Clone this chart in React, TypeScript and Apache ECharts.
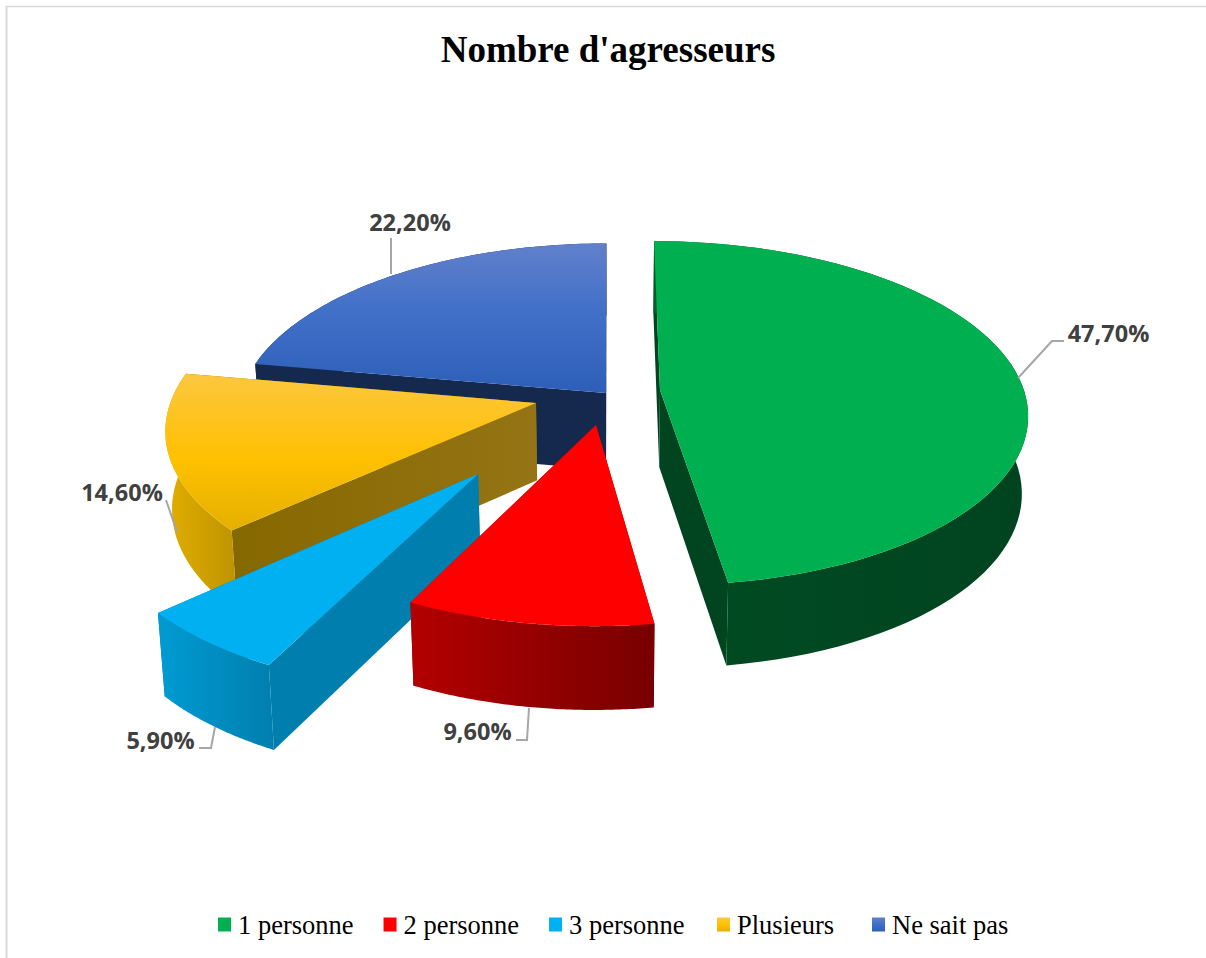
import React, { useEffect, useRef } from "react";
import * as echarts from "echarts";

const categories = ["1 personne", "2 personne", "3 personne", "Plusieurs", "Ne sait pas"];
const shares = [47.7, 9.6, 5.9, 14.6, 22.2];

// How far each slice is pulled out of the disc, in units of the disc radius.
const pullX = [0.1374, -0.0374, -0.3396, -0.2013, -0.011];
const pullY = [-0.0236, 0.178, 0.4425, 0.0525, -0.0059];
const radii = [1, 0.975, 0.97, 0.995, 1];

const vgrad = (stops: [number, string][]) =>
  new echarts.graphic.LinearGradient(0, 0, 0, 1, stops.map(([offset, color]) => ({ offset, color })));
const hgrad = (stops: [number, string][]) =>
  new echarts.graphic.LinearGradient(0, 0, 1, 0, stops.map(([offset, color]) => ({ offset, color })));

// Surface shading per slice: top face, outer rim, radial wall.
const topFills: any[] = [
  "#00b050",
  "#ff0000",
  "#00b0f0",
  vgrad([[0, "#fcc73f"], [0.55, "#ffc000"], [1, "#e4b000"]]),
  vgrad([[0, "#6180cb"], [0.45, "#4170c8"], [1, "#2d5fb8"]]),
];
const rimFills: any[] = [
  hgrad([[0, "#005f2b"], [0.2, "#004a22"], [1, "#00441f"]]),
  hgrad([[0, "#b30000"], [1, "#780000"]]),
  hgrad([[0, "#009bd3"], [1, "#007fae"]]),
  hgrad([[0, "#e2ae00"], [1, "#bd9300"]]),
  hgrad([[0, "#15294f"], [1, "#15294f"]]),
];
const wallFills: any[] = [
  "#00451f",
  "#8f0000",
  "#007fae",
  hgrad([[0, "#866800"], [1, "#947414"]]),
  "#15294f",
];

// Perspective view of the tilted disc.
const view = { cx: 610, cy: 394, rx: 365, ry: 170, persp: 0.135, depth: 77, shrink: 0.015 };

const project = (u: number, v: number, lower: number) => {
  const s = 1 / (1 - view.persp * v);
  return [
    view.cx + view.rx * u * s * (1 - view.shrink * lower),
    view.cy + view.ry * v * s + lower * view.depth * Math.sqrt(s),
  ];
};

const total = shares.reduce((a, b) => a + b, 0);

function sliceShapes(index: number, value: number) {
  const before = shares.slice(0, index).reduce((a, b) => a + b, 0);
  const a0 = (before / total) * Math.PI * 2;
  const a1 = a0 + (value / total) * Math.PI * 2;
  const ex = pullX[index];
  const ey = pullY[index];
  const r = radii[index];
  const ring = (lower: number) => {
    const pts: number[][] = [];
    for (let i = 0; i <= 72; i++) {
      const t = a0 + ((a1 - a0) * i) / 72;
      pts.push(project(ex + r * Math.sin(t), ey - r * Math.cos(t), lower));
    }
    return pts;
  };
  const top = ring(0);
  const bottom = ring(1);
  const apexTop = project(ex, ey, 0);
  const apexBottom = project(ex, ey, 1);
  const wall = (t: number[], b: number[]) => [apexTop, t, b, apexBottom];
  return {
    topFace: [apexTop, ...top],
    rim: [...top, ...bottom.slice().reverse()],
    wallStart: wall(top[0], bottom[0]),
    wallEnd: wall(top[72], bottom[72]),
  };
}

const poly = (points: number[][], fill: any) => ({
  type: "polygon",
  silent: true,
  shape: { points },
  style: { fill, stroke: null },
});

function makeSeries(index: number) {
  return {
    type: "custom",
    name: categories[index],
    coordinateSystem: "none",
    itemStyle: { color: topFills[index] },
    data: [[shares[index]]],
    renderItem: (_p: any, api: any) => {
      const g = sliceShapes(index, api.value(0));
      return {
        type: "group",
        children: [
          poly(g.wallEnd, wallFills[index]),
          poly(g.wallStart, wallFills[index]),
          poly(g.rim, rimFills[index]),
          poly(g.topFace, topFills[index]),
        ],
      };
    },
  };
}

const formatShare = (v: number) => v.toFixed(2).replace(".", ",") + "%";

// Value labels and their leader lines, in pixels.
const labelLayout = [
  { x: 1108.5, y: 333, line: [[1018, 378], [1052, 341], [1064, 341]] },
  { x: 477.5, y: 731, line: [[529, 708], [527, 740], [516, 740]] },
  { x: 160.5, y: 740, line: [[215, 727], [211, 748], [199, 748]] },
  { x: 122, y: 492, line: [[177, 532], [166, 500]] },
  { x: 410, y: 222, line: [[391, 274], [391, 238]] },
];

// The legend is split in three so the wider gaps before the last two entries hold.
const legendBlocks = [
  { names: categories.slice(0, 3), left: 213 },
  { names: categories.slice(3, 4), left: 712 },
  { names: categories.slice(4), left: 867 },
];

export default function App() {
  const ref = useRef<HTMLDivElement>(null);
  useEffect(() => {
    const chart = echarts.init(ref.current!, undefined, { renderer: "svg" });
    const labels = labelLayout.flatMap((l, i) => [
      {
        type: "polyline",
        silent: true,
        z: 20,
        shape: { points: l.line },
        style: { stroke: "#a6a6a6", lineWidth: 2, fill: null },
      },
      {
        type: "text",
        silent: true,
        z: 20,
        x: l.x,
        y: l.y,
        style: {
          text: formatShare(shares[i]),
          fill: "#404040",
          font: 'bold 23.5px "Open Sans"',
          textAlign: "center",
          textVerticalAlign: "middle",
        },
      },
    ]);
    chart.setOption({
      animation: false,
      backgroundColor: "#ffffff",
      title: {
        text: "Nombre d'agresseurs",
        left: 603,
        top: 26,
        textAlign: "center",
        textStyle: { fontFamily: "Liberation Serif", fontWeight: "bold", fontSize: 37, color: "#000000" },
      },
      legend: legendBlocks.map((b) => ({
        data: b.names,
        left: b.left,
        top: 906,
        itemWidth: 13,
        itemHeight: 14,
        itemGap: 30,
        icon: "rect",
        selectedMode: false,
        textStyle: { fontFamily: "Liberation Serif", fontSize: 26.5, color: "#000000", padding: [0, 0, 0, 2] },
      })),
      graphic: [
        { type: "line", silent: true, shape: { x1: 6.5, y1: 6, x2: 6.5, y2: 958 }, style: { stroke: "#d9d9d9", lineWidth: 2 } },
        { type: "line", silent: true, shape: { x1: 6, y1: 6.5, x2: 1206, y2: 6.5 }, style: { stroke: "#d9d9d9", lineWidth: 1.5 } },
        ...labels,
      ],
      // Painted back to front, so the series run opposite to the legend.
      series: [4, 3, 2, 1, 0].map(makeSeries),
    });
    return () => chart.dispose();
  }, []);
  return <div ref={ref} style={{ position: "fixed", left: 0, top: 0, width: 1206, height: 958 }} />;
}
